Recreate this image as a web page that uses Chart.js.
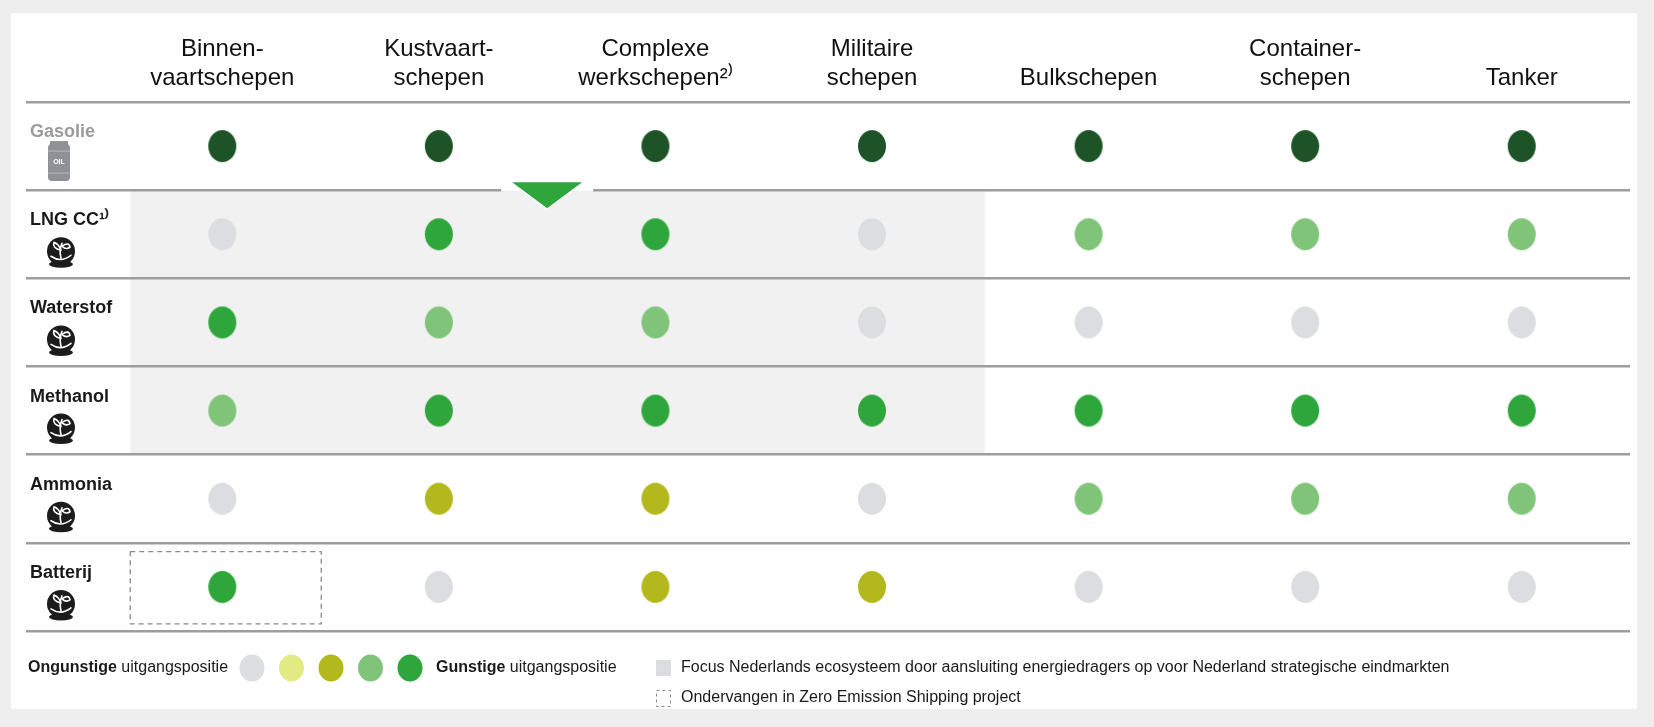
<!DOCTYPE html>
<html>
<head>
<meta charset="utf-8">
<script src="https://cdn.jsdelivr.net/npm/chart.js@4.4.1/dist/chart.umd.min.js"></script>
<style>
  html, body { margin: 0; padding: 0; background: #eeeeee; }
  canvas { display: block; }
</style>
</head>
<body>
<canvas id="fuelChart" width="1654" height="727"></canvas>
<script>
// columns: ship types (keys + the two-line header text)
var shipTypes = ['Binnenvaartschepen', 'Kustvaartschepen', 'Complexe werkschepen', 'Militaire schepen',
  'Bulkschepen', 'Containerschepen', 'Tanker'];
var shipTypeLabels = [
  ['Binnen-', 'vaartschepen'],
  ['Kustvaart-', 'schepen'],
  ['Complexe', 'werkschepen²⁾'],
  ['Militaire', 'schepen'],
  'Bulkschepen',
  ['Container-', 'schepen'],
  'Tanker'
];

// rows: energy carriers
var fuels = ['Gasolie', 'LNG CC¹⁾', 'Waterstof', 'Methanol', 'Ammonia', 'Batterij'];

// 0 = ongunstig ... 4 = gunstig, 5 = huidige brandstof (gasolie)
var gasolie   = [5, 5, 5, 5, 5, 5, 5];
var lngCC     = [0, 4, 4, 0, 3, 3, 3];
var waterstof = [4, 3, 3, 0, 0, 0, 0];
var methanol  = [3, 4, 4, 4, 4, 4, 4];
var ammonia   = [0, 2, 2, 0, 3, 3, 3];
var batterij  = [4, 0, 2, 2, 0, 0, 0];

var levelColors = ['#dcdde0', '#e2ea84', '#b3b91c', '#80c47a', '#2fa63b', '#1d5326'];

// focus area (columns 0-3, rows LNG..Methanol) and Zero Emission Shipping box
var focusCols = [0, 3];
var focusRows = [1, 3];
var zesCell = [0, 5];

var legendLow = 'Ongunstige';
var legendHigh = 'Gunstige';
var legendPos = ' uitgangspositie';
var legendFocus = 'Focus Nederlands ecosysteem door aansluiting energiedragers op voor Nederland strategische eindmarkten';
var legendZes = 'Ondervangen in Zero Emission Shipping project';

var FONT = "'Liberation Sans', Arial, Helvetica, sans-serif";

// ellipse shaped dots as point images
function makeDot(color, rx, ry) {
  var c = document.createElement('canvas');
  c.width = rx * 2 + 2;
  c.height = ry * 2 + 2;
  var g = c.getContext('2d');
  g.fillStyle = color;
  g.beginPath();
  g.ellipse(c.width / 2, c.height / 2, rx, ry, 0, 0, Math.PI * 2);
  g.fill();
  return c;
}
var dotImages = levelColors.map(function (col) { return makeDot(col, 14, 16); });

var rows = [gasolie, lngCC, waterstof, methanol, ammonia, batterij];
var points = [];
rows.forEach(function (row, ri) {
  row.forEach(function (lvl, ci) {
    points.push({ x: shipTypes[ci], y: fuels[ri], level: lvl });
  });
});

function drawEco(ctx, cx, cy) {
  ctx.save();
  ctx.fillStyle = '#1c1c1c';
  ctx.beginPath();
  ctx.arc(cx, cy, 14, 0, Math.PI * 2);
  ctx.fill();
  ctx.beginPath();
  ctx.ellipse(cx, cy + 13, 12, 3.5, 0, 0, Math.PI * 2);
  ctx.fill();
  ctx.strokeStyle = '#ffffff';
  ctx.lineWidth = 1.6;
  ctx.lineCap = 'round';
  ctx.beginPath();
  ctx.moveTo(cx, cy + 7);
  ctx.quadraticCurveTo(cx - 2, cy - 1, cx + 1, cy - 8);
  ctx.stroke();
  ctx.beginPath();
  ctx.moveTo(cx, cy - 1);
  ctx.quadraticCurveTo(cx - 9, cy - 3, cx - 7, cy - 9);
  ctx.quadraticCurveTo(cx - 2, cy - 7, cx, cy - 1);
  ctx.stroke();
  ctx.beginPath();
  ctx.moveTo(cx + 1, cy - 5);
  ctx.quadraticCurveTo(cx + 8, cy - 10, cx + 9, cy - 4);
  ctx.quadraticCurveTo(cx + 5, cy - 1, cx + 1, cy - 5);
  ctx.stroke();
  ctx.beginPath();
  ctx.moveTo(cx - 10, cy + 5);
  ctx.quadraticCurveTo(cx, cy + 12, cx + 10, cy + 4);
  ctx.stroke();
  ctx.restore();
}

function drawBarrel(ctx, cx, top) {
  ctx.save();
  ctx.fillStyle = '#8e9297';
  ctx.beginPath();
  ctx.roundRect(cx - 11, top + 3, 22, 37, 4);
  ctx.fill();
  ctx.fillRect(cx - 9, top, 18, 4);
  ctx.strokeStyle = '#b5b8bb';
  ctx.lineWidth = 1;
  ctx.beginPath();
  ctx.moveTo(cx - 11, top + 10); ctx.lineTo(cx + 11, top + 10);
  ctx.moveTo(cx - 11, top + 32); ctx.lineTo(cx + 11, top + 32);
  ctx.stroke();
  ctx.fillStyle = '#ffffff';
  ctx.font = 'bold 7px ' + FONT;
  ctx.textAlign = 'center';
  ctx.textBaseline = 'middle';
  ctx.fillText('OIL', cx, top + 21);
  ctx.restore();
}

var tablePlugin = {
  id: 'tableDecor',
  beforeDraw: function (chart) {
    var ctx = chart.ctx;
    var xs = chart.scales.x, ys = chart.scales.y;
    ctx.save();
    ctx.fillStyle = '#eeeeee';
    ctx.fillRect(0, 0, chart.width, chart.height);
    ctx.fillStyle = '#ffffff';
    ctx.fillRect(11, 13, 1626, 696);
    var step = xs.getPixelForValue(1) - xs.getPixelForValue(0);
    var rstep = ys.getPixelForValue(1) - ys.getPixelForValue(0);
    var left = xs.getPixelForValue(focusCols[0]) - 0.425 * step;
    var right = xs.getPixelForValue(focusCols[1]) + 0.52 * step;
    var top = ys.getPixelForValue(focusRows[0]) - rstep / 2;
    var bottom = ys.getPixelForValue(focusRows[1]) + rstep / 2;
    ctx.fillStyle = '#f1f1f1';
    ctx.fillRect(left, top, right - left, bottom - top);
    ctx.restore();
  },
  afterDraw: function (chart) {
    var ctx = chart.ctx;
    var xs = chart.scales.x, ys = chart.scales.y;
    var step = xs.getPixelForValue(1) - xs.getPixelForValue(0);
    var rstep = ys.getPixelForValue(1) - ys.getPixelForValue(0);
    ctx.save();

    // triangle between Kustvaart and Complexe on the gasolie line
    var tx = (xs.getPixelForValue(1) + xs.getPixelForValue(2)) / 2;
    var ty = ys.getPixelForValue(0) + rstep / 2;
    ctx.fillStyle = '#ffffff';
    ctx.fillRect(tx - 46, ty - 2.5, 92, 4);
    ctx.beginPath();
    ctx.moveTo(tx - 35, ty - 8);
    ctx.lineTo(tx + 35, ty - 8);
    ctx.lineTo(tx, ty + 18);
    ctx.closePath();
    ctx.lineWidth = 3;
    ctx.strokeStyle = '#ffffff';
    ctx.lineJoin = 'round';
    ctx.stroke();
    ctx.fillStyle = levelColors[4];
    ctx.fill();

    // dashed box: Zero Emission Shipping
    var zx = xs.getPixelForValue(zesCell[0]);
    var zy = ys.getPixelForValue(zesCell[1]);
    ctx.setLineDash([5, 4]);
    ctx.lineWidth = 1.3;
    ctx.strokeStyle = '#8a8a8a';
    ctx.strokeRect(zx - 0.425 * step, zy - 0.40 * rstep, 0.882 * step, 0.82 * rstep);
    ctx.setLineDash([]);

    // row icons
    fuels.forEach(function (f, i) {
      var cy = ys.getPixelForValue(i);
      if (i === 0) drawBarrel(ctx, 59, cy - 5);
      else drawEco(ctx, 61, cy + 17);
    });

    // legend
    var ly = 668;
    ctx.textBaseline = 'middle';
    ctx.textAlign = 'left';
    ctx.fillStyle = '#1a1a1a';
    ctx.font = 'bold 16px ' + FONT;
    ctx.fillText(legendLow, 28, ly);
    var w = ctx.measureText(legendLow).width;
    ctx.font = '16px ' + FONT;
    ctx.fillText(legendPos, 28 + w, ly);
    for (var k = 0; k < 5; k++) {
      ctx.fillStyle = levelColors[k];
      ctx.beginPath();
      ctx.ellipse(252 + k * 39.5, ly, 12.5, 13.5, 0, 0, Math.PI * 2);
      ctx.fill();
    }
    ctx.fillStyle = '#1a1a1a';
    ctx.font = 'bold 16px ' + FONT;
    ctx.fillText(legendHigh, 436, ly);
    w = ctx.measureText(legendHigh).width;
    ctx.font = '16px ' + FONT;
    ctx.fillText(legendPos, 436 + w, ly);

    ctx.fillStyle = '#dcdde0';
    ctx.fillRect(656, 660, 15, 16);
    ctx.fillStyle = '#1a1a1a';
    ctx.fillText(legendFocus, 681, ly);

    ctx.setLineDash([3, 3]);
    ctx.strokeStyle = '#8a8a8a';
    ctx.lineWidth = 1;
    ctx.strokeRect(656.5, 690.5, 14, 16);
    ctx.setLineDash([]);
    ctx.fillStyle = '#1a1a1a';
    ctx.fillText(legendZes, 681, 698);
    ctx.restore();
  }
};

var ctx = document.getElementById('fuelChart').getContext('2d');
var fuelChart = new Chart(ctx, {
  type: 'scatter',
  data: {
    datasets: [{
      data: points,
      pointStyle: function (c) { return dotImages[c.raw.level]; },
      pointRadius: 15,
      clip: false
    }]
  },
  options: {
    responsive: false,
    animation: false,
    events: [],
    layout: { padding: { left: 30, right: 24, top: 13, bottom: 96 } },
    plugins: { legend: { display: false }, tooltip: { enabled: false } },
    scales: {
      x: {
        type: 'category',
        position: 'top',
        labels: shipTypes,
        offset: true,
        grid: { display: false },
        border: { display: false },
        ticks: {
          autoSkip: false,
          maxRotation: 0,
          padding: 1,
          color: '#111111',
          font: { family: FONT, size: 24, lineHeight: 1.2 },
          callback: function (v, i) { return shipTypeLabels[i]; }
        },
        afterFit: function (s) { s.height = 89; }
      },
      y: {
        type: 'category',
        labels: fuels,
        offset: true,
        grid: { offset: true, color: '#9d9d9d', lineWidth: 2.5, drawTicks: true, tickLength: 88 },
        border: { display: false },
        ticks: {
          crossAlign: 'far',
          labelOffset: -14,
          color: function (c) { return c.index === 0 ? '#9b9b9b' : '#1a1a1a'; },
          font: { family: FONT, size: 18, weight: 'bold' }
        },
        afterFit: function (s) { s.width = 84; }
      }
    }
  },
  plugins: [tablePlugin]
});
</script>
</body>
</html>
